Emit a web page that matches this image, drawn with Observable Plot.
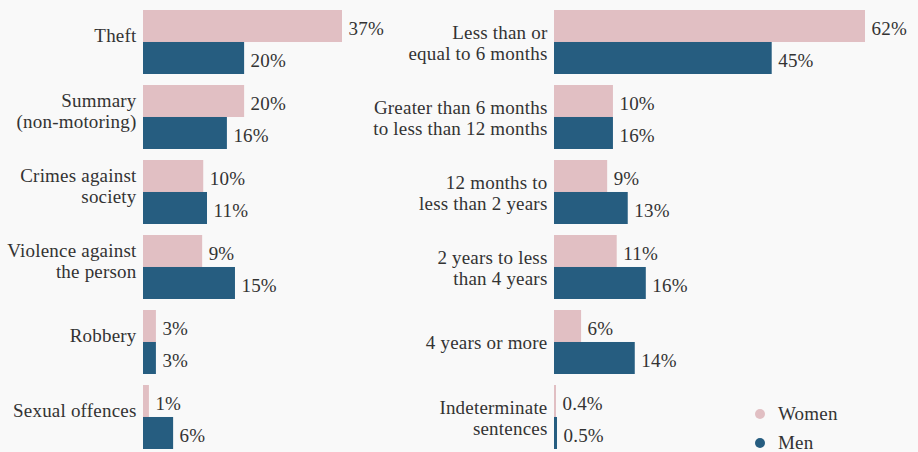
<!DOCTYPE html>
<html>
<head>
<meta charset="utf-8">
<script src="https://cdn.jsdelivr.net/npm/d3@7"></script>
<script src="https://cdn.jsdelivr.net/npm/@observablehq/plot@0.6"></script>
<style>
  html, body { margin: 0; padding: 0; background: #f9f9f9; overflow: hidden; }
  #wrap { position: relative; width: 918px; height: 452px; display: flex; font-family: "Liberation Serif", "Times New Roman", serif; color: #333; }
  #wrap svg { overflow: visible; }
  #wrap svg text { font-family: "Liberation Serif", "Times New Roman", serif !important; letter-spacing: 0.2px; }
  .legend { position: absolute; left: 755px; top: 399px; font-size: 19px; letter-spacing: 0.2px; }
  .legend div { display: flex; align-items: center; height: 29px; }
  .legend span.sw { display: inline-block; width: 10px; height: 10px; border-radius: 50%; margin-right: 13px; }
</style>
</head>
<body>
<div id="wrap"></div>
<script>
// ---- data ----
const seriesNames = ["Women", "Men"];
const seriesColors = ["#e1bfc3", "#265d80"];

const offenceCats = ["Theft", "Summary\n(non-motoring)", "Crimes against\nsociety", "Violence against\nthe person", "Robbery", "Sexual offences"];
const offenceWomen = [37, 18.8, 11.2, 11.0, 2.4, 1.1];
const offenceMen = [18.8, 15.6, 11.9, 17.1, 2.4, 5.6];
const offenceWomenLabels = ["37%", "20%", "10%", "9%", "3%", "1%"];
const offenceMenLabels = ["20%", "16%", "11%", "15%", "3%", "6%"];

const sentenceCats = ["Less than or\nequal to 6 months", "Greater than 6 months\nto less than 12 months", "12 months to\nless than 2 years", "2 years to less\nthan 4 years", "4 years or more", "Indeterminate\nsentences"];
const sentenceWomen = [62, 11.75, 10.6, 12.5, 5.4, 0.4];
const sentenceMen = [43.4, 11.75, 14.7, 18.3, 16.1, 0.6];
const sentenceWomenLabels = ["62%", "10%", "9%", "11%", "6%", "0.4%"];
const sentenceMenLabels = ["45%", "16%", "13%", "16%", "14%", "0.5%"];

// ---- chart ----
const H = 452, MT = 10, MB = 3, PAD = 0.147;
const FS = 19;
const FONT = "'Liberation Serif', 'Times New Roman', serif";

function panel({cats, women, men, wl, ml, width, marginLeft, marginRight, labelDy}) {
  const rows = cats.map((c, i) => ({cat: c, women: women[i], men: men[i], wl: wl[i], ml: ml[i]}));
  const bw = (H - MT - MB) / (cats.length - PAD) * (1 - PAD);
  const half = bw / 2;
  return Plot.plot({
    width, height: H,
    marginTop: MT, marginBottom: MB, marginLeft, marginRight,
    style: {background: "transparent", fontFamily: FONT, fontSize: FS + "px", color: "#333", overflow: "visible"},
    x: {domain: [0, d3.max(women.concat(men))], axis: null},
    y: {domain: cats, paddingInner: PAD, paddingOuter: 0, axis: null},
    marks: [
      Plot.barX(rows, {x: "women", y: "cat", fill: seriesColors[0], insetBottom: half, insetTop: 0}),
      Plot.barX(rows, {x: "men", y: "cat", fill: seriesColors[1], insetTop: half, insetBottom: 0}),
      Plot.text(rows, {x: "women", y: "cat", text: "wl", dx: 6, dy: -half / 2 + 2, textAnchor: "start", fill: "#333", fontSize: FS, fontFamily: FONT}),
      Plot.text(rows, {x: "men", y: "cat", text: "ml", dx: 6, dy: half / 2 + 2, textAnchor: "start", fill: "#333", fontSize: FS, fontFamily: FONT}),
      Plot.text(rows, {y: "cat", text: "cat", frameAnchor: "left", textAnchor: "end", dx: -7, dy: labelDy, lineHeight: 1.1, fill: "#333", fontSize: FS, fontFamily: FONT})
    ]
  });
}

const wrap = document.getElementById("wrap");
wrap.append(panel({cats: offenceCats, women: offenceWomen, men: offenceMen, wl: offenceWomenLabels, ml: offenceMenLabels,
  width: 410, marginLeft: 143, marginRight: 68, labelDy: -7}));
wrap.append(panel({cats: sentenceCats, women: sentenceWomen, men: sentenceMen, wl: sentenceWomenLabels, ml: sentenceMenLabels,
  width: 508, marginLeft: 144, marginRight: 53, labelDy: 0}));

const legend = document.createElement("div");
legend.className = "legend";
seriesNames.forEach((n, i) => {
  const row = document.createElement("div");
  const sw = document.createElement("span");
  sw.className = "sw";
  sw.style.background = seriesColors[i];
  row.append(sw, document.createTextNode(n));
  legend.append(row);
});
wrap.append(legend);
</script>
</body>
</html>
